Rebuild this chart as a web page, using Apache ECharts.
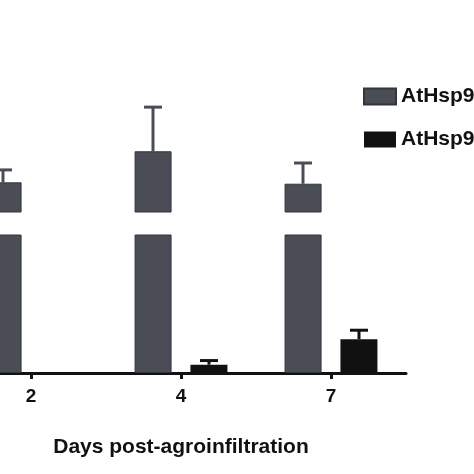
<!DOCTYPE html><html><head><meta charset="utf-8">
<script src="https://cdn.jsdelivr.net/npm/echarts@6/dist/echarts.min.js"></script>
<style>html,body{margin:0;padding:0;background:#fff}#c{width:474px;height:474px}</style></head>
<body><div id="c"></div><script>
const categories = ['2','4','7'];
const seriesNames = ['AtHsp90.1','AtHsp90.2'];
const grayMean = [44.3, 48.8, 44.1];
const grayUpper = [46.1, 55.2, 47.1];
const blackMean = [0, 1.2, 4.9];
const blackUpper = [null, 1.8, 6.2];
const GRAY = '#4a4d55', BLACK = '#111111';
const chart = echarts.init(document.getElementById('c'));
function errItem(upperArr, idx, offsetPx){
  return function(params, api){
    const i = api.value(0);
    const up = upperArr[i];
    if (up == null) return null;
    const base = api.coord([i, api.value(1)]);
    const top = api.coord([i, up]);
    const x = base[0] + offsetPx;
    const col = idx === 0 ? GRAY : BLACK;
    return {type:'group', children:[
      {type:'line', shape:{x1:x,y1:base[1],x2:x,y2:top[1]}, style:{stroke:col,lineWidth:3}},
      {type:'line', shape:{x1:x-9,y1:top[1],x2:x+9,y2:top[1]}, style:{stroke:col,lineWidth:3}}
    ]};
  };
}
const xCommon = {type:'category', data:categories};
chart.setOption({
  animation:false,
  legend:{left:358, top:81, orient:'vertical', itemWidth:32, itemHeight:16, itemGap:22, icon:'rect',
    textStyle:{fontFamily:'Liberation Sans', fontWeight:'bold', fontSize:21, color:'#111'},
    data:seriesNames},
  grid:[
    {left:-44, width:450, top:235, height:138, outerBoundsMode:'none', containLabel:false},
    {left:-44, width:450, top:101.6, height:110.4, outerBoundsMode:'none', containLabel:false}
  ],
  xAxis:[
    Object.assign({gridIndex:0, axisLine:{lineStyle:{color:'#111',width:3}},
      axisTick:{show:true, alignWithLabel:true, length:6, lineStyle:{width:3,color:'#111'}},
      axisLabel:{fontFamily:'Liberation Sans', fontWeight:'bold', fontSize:19, color:'#111', margin:14},
      name:'Days post-agroinfiltration', nameLocation:'middle', nameGap:64,
      nameTextStyle:{fontFamily:'Liberation Sans', fontWeight:'bold', fontSize:21, color:'#111'}}, xCommon),
    Object.assign({gridIndex:1, show:false}, xCommon)
  ],
  yAxis:[
    {gridIndex:0, min:0, max:20, show:false},
    {gridIndex:1, min:40, max:56, show:false}
  ],
  series:[
    {name:seriesNames[0], type:'bar', xAxisIndex:0, yAxisIndex:0, data:grayMean, barWidth:37, barGap:'51%',
      itemStyle:{color:GRAY, borderColor:'#33363c', borderWidth:1}},
    {name:seriesNames[1], type:'bar', xAxisIndex:0, yAxisIndex:0, data:blackMean, barWidth:37, barGap:'51%',
      itemStyle:{color:BLACK}},
    {name:seriesNames[0], type:'bar', xAxisIndex:1, yAxisIndex:1, data:grayMean, barWidth:37, barGap:'51%',
      itemStyle:{color:GRAY, borderColor:'#33363c', borderWidth:1}},
    {name:seriesNames[1], type:'bar', xAxisIndex:1, yAxisIndex:1, data:blackMean.map(()=>null), barWidth:37, barGap:'51%',
      itemStyle:{color:BLACK}},
    {type:'custom', xAxisIndex:1, yAxisIndex:1, renderItem:errItem(grayUpper,0,-28),
      data:grayMean.map((v,i)=>[i,v]), clip:false, z:1},
    {type:'custom', xAxisIndex:0, yAxisIndex:0, renderItem:errItem(blackUpper,1,28),
      data:blackMean.map((v,i)=>[i,v]), clip:false, z:1}
  ]
});
</script></body></html>
